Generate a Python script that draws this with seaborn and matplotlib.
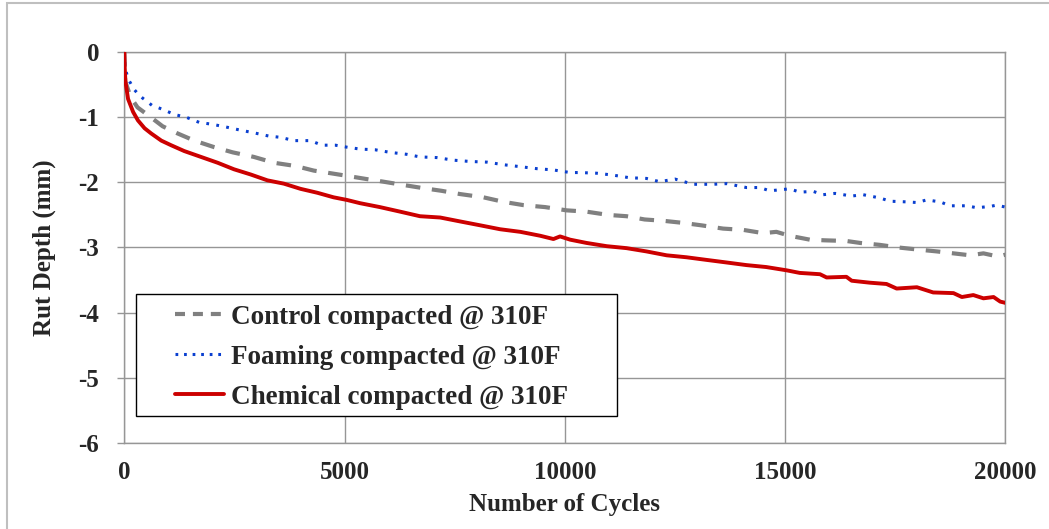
import pandas as pd
import matplotlib.pyplot as plt
import seaborn as sns
from matplotlib.patches import Rectangle, Shadow
from matplotlib.lines import Line2D

# rut depth readings (cycles, mm) for each mix
control_cycles = [0, 20, 150, 300, 540, 870, 1210, 1590, 2040, 2460, 2940, 3400, 3890, 4300, 4680,
                  5050, 5500, 5880, 6330, 6790, 7200, 7620, 8150, 8610, 9060, 9550, 10040, 10490,
                  10980, 11400, 11810, 12230, 12650, 13100, 13590, 14050, 14500, 14800, 15100, 15560,
                  15900, 16390, 16700, 17150, 17570, 17990, 18440, 18820, 19200, 19500, 19840, 20000]
control_depth = [0, -0.45, -0.70, -0.85, -0.97, -1.14, -1.25, -1.36, -1.46, -1.54, -1.61, -1.70, -1.75,
                 -1.82, -1.86, -1.90, -1.95, -1.99, -2.04, -2.09, -2.13, -2.18, -2.23, -2.30, -2.35,
                 -2.38, -2.43, -2.45, -2.50, -2.52, -2.57, -2.59, -2.62, -2.66, -2.71, -2.73, -2.78,
                 -2.76, -2.82, -2.88, -2.89, -2.90, -2.93, -2.96, -3.00, -3.03, -3.06, -3.09, -3.12,
                 -3.09, -3.14, -3.11]

foam_cycles = [0, 10, 45, 85, 160, 230, 320, 420, 630, 870, 1140, 1400, 1700, 2000, 2300, 2640, 2940,
               3280, 3550, 3850, 4220, 4490, 4790, 5050, 5350, 5690, 6030, 6410, 6710, 7090, 7470,
               7850, 8230, 8610, 8990, 9360, 9740, 10120, 10340, 10720, 11100, 11470, 11850, 12150,
               12500, 12910, 13360, 13670, 14120, 14420, 14650, 15100, 15330, 15640, 15860, 16130,
               16510, 16770, 17150, 17380, 17760, 17990, 18210, 18520, 18740, 19120, 19350, 19650,
               19800, 20000]
foam_depth = [0, -0.20, -0.31, -0.41, -0.50, -0.58, -0.65, -0.71, -0.82, -0.88, -0.96, -1.00, -1.08,
              -1.11, -1.15, -1.20, -1.24, -1.29, -1.31, -1.36, -1.36, -1.43, -1.43, -1.46, -1.49,
              -1.50, -1.54, -1.57, -1.61, -1.62, -1.66, -1.68, -1.69, -1.73, -1.76, -1.79, -1.81,
              -1.85, -1.85, -1.86, -1.89, -1.93, -1.94, -1.99, -1.95, -2.03, -2.03, -2.02, -2.08,
              -2.08, -2.13, -2.10, -2.15, -2.14, -2.19, -2.17, -2.21, -2.19, -2.24, -2.29, -2.30,
              -2.31, -2.27, -2.30, -2.36, -2.36, -2.39, -2.37, -2.35, -2.38]

chem_cycles = [0, 10, 25, 85, 200, 310, 460, 610, 840, 1060, 1360, 1740, 2120, 2490, 2870, 3250, 3620,
               4000, 4380, 4750, 5050, 5350, 5800, 6260, 6710, 7170, 7620, 8080, 8530, 8990, 9440,
               9740, 9890, 10120, 10490, 10950, 11400, 11850, 12310, 12760, 13210, 13670, 14120,
               14570, 15030, 15330, 15790, 15940, 16390, 16510, 16920, 17300, 17530, 17990, 18360,
               18820, 19010, 19270, 19500, 19730, 19880, 20000]
chem_depth = [0, -0.25, -0.45, -0.72, -0.92, -1.05, -1.17, -1.25, -1.36, -1.43, -1.52, -1.61, -1.70,
              -1.80, -1.88, -1.97, -2.02, -2.10, -2.16, -2.23, -2.27, -2.32, -2.38, -2.45, -2.52,
              -2.54, -2.60, -2.66, -2.72, -2.76, -2.82, -2.87, -2.83, -2.88, -2.93, -2.98, -3.01,
              -3.06, -3.12, -3.15, -3.19, -3.23, -3.27, -3.30, -3.35, -3.39, -3.41, -3.46, -3.45,
              -3.51, -3.54, -3.56, -3.63, -3.61, -3.69, -3.70, -3.76, -3.73, -3.78, -3.76, -3.83,
              -3.85]

labels = ['Control compacted @ 310F', 'Foaming compacted @ 310F', 'Chemical compacted @ 310F']
colors = ['#808080', '#0a3fd0', '#cc0000']

sns.set_theme(style='white')
plt.rcParams['font.family'] = ['Liberation Serif', 'DejaVu Serif']
plt.rcParams['font.weight'] = 'bold'
plt.rcParams['axes.unicode_minus'] = False

fig = plt.figure(figsize=(10.49, 5.29), dpi=100)
ax = fig.add_axes([0.1185, 0.1626, 0.8400, 0.7391])

grid_col = '#969696'

#one line per mix
series = [(control_cycles, control_depth), (foam_cycles, foam_depth), (chem_cycles, chem_depth)]
for (cx, cy), lab, col in zip(series, labels, colors):
    df = pd.DataFrame({'cycles': cx, 'depth': cy})
    sns.lineplot(data=df, x='cycles', y='depth', ax=ax, color=col, estimator=None, sort=False)

l_ctrl, l_foam, l_chem = ax.lines[0], ax.lines[1], ax.lines[2]
l_ctrl.set_linewidth(3.0)
l_ctrl.set_dashes([3.5, 2.8])
l_foam.set_linewidth(2.2)
l_foam.set_dashes([0.9, 2.4])
l_chem.set_linewidth(2.8)
l_ctrl.set_zorder(3)
l_foam.set_zorder(3)
l_chem.set_zorder(4)

ax.set_xlim(0, 20000)
ax.set_ylim(-6, 0)
ax.set_xticks([0, 5000, 10000, 15000, 20000])
ax.set_yticks(range(-6, 1))
ax.grid(True, color=grid_col, linewidth=1.0)
for s in ax.spines.values():
    s.set_color(grid_col)
    s.set_linewidth(1.0)
    s.set_visible(True)
ax.tick_params(axis='y', left=True, length=5, width=1, color=grid_col, pad=13, labelsize=18)
ax.tick_params(axis='x', bottom=False, length=0, pad=13, labelsize=18)
for t in ax.get_xticklabels() + ax.get_yticklabels():
    t.set_fontweight('bold')

ax.set_xlabel('Number of Cycles', fontsize=18, fontweight='bold')
ax.set_ylabel('Rut Depth (mm)', fontsize=18, fontweight='bold')
ax.xaxis.set_label_coords(0.5, -0.128)
ax.yaxis.set_label_coords(-0.078, 0.5)

#legend box drawn by hand so padding matches
box = Rectangle((0.0133, 0.069), 0.546, 0.312, transform=ax.transAxes, facecolor='white',
                edgecolor='black', linewidth=1.0, zorder=6)
shadow = Shadow(box, 3, -3, facecolor='#b0b0b0', edgecolor='none', alpha=0.6, zorder=5)
ax.add_patch(shadow)
ax.add_patch(box)

handles = [Line2D([], [], color=colors[0], lw=3.0, dashes=[2.4, 1.9]),
           Line2D([], [], color=colors[1], lw=2.2, dashes=[0.9, 1.9]),
           Line2D([], [], color=colors[2], lw=2.8)]
leg = ax.legend(handles, labels, loc='upper left', bbox_to_anchor=(0.058, 0.353), frameon=False,
                borderpad=0, borderaxespad=0, handlelength=1.8, handletextpad=0.25,
                labelspacing=0.55, prop={'family': 'Liberation Serif', 'weight': 'bold', 'size': 19.5})
leg.set_zorder(7)

#outer chart frame (only top and left visible)
fig.patches.append(Rectangle((7 / 1049, -0.2), 1.2, 1.2 - 3 / 529, transform=fig.transFigure,
                             fill=False, edgecolor='#bfbfbf', linewidth=1.5))

fig.savefig('out.png', dpi=100)
